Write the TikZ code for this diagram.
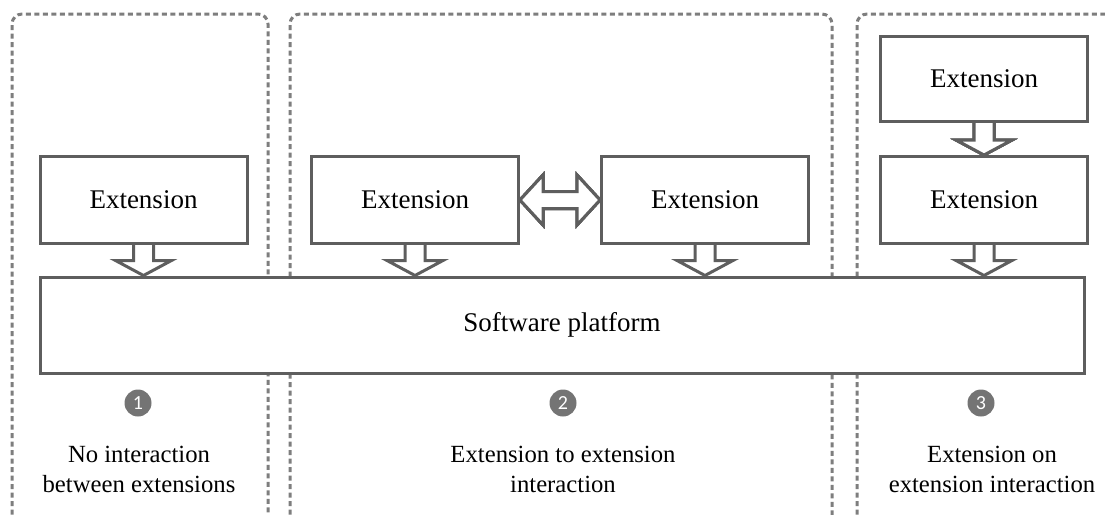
\documentclass[tikz,border=0pt]{standalone}
\usepackage{fontspec}
\setmainfont{Liberation Serif}
\newfontfamily\numfont{Carlito}
\usetikzlibrary{calc,positioning,backgrounds}
\definecolor{boxgray}{HTML}{5E5E5E}
\definecolor{framegray}{HTML}{7E7E7E}
\definecolor{dotgray}{HTML}{747474}
\tikzset{
	extbox/.style={draw=boxgray, line width=3pt, fill=white, minimum width=207pt, minimum height=87pt, inner sep=0pt, font=\fontsize{27}{30}\selectfont},
	blockarrow/.style={draw=boxgray, line width=3pt, fill=white},
	groupframe/.style={draw=framegray, line width=3pt, dash pattern=on 5pt off 3.5pt, rounded corners=10pt},
	numdot/.style={circle, fill=dotgray, text=white, minimum size=27pt, inner sep=0pt, font=\numfont\fontsize{20}{20}\selectfont},
	notelabel/.style={align=center, anchor=base, font=\fontsize{24.7}{30}\selectfont}
}
\newcommand\downblock[2]{%
	\draw[blockarrow] ($(#1.south)+(-10,0)$) -- ($(#1.south |- #2.north)+(-10,-15)$) -- ++(-18,0)
	-- (#1.south |- #2.north) -- ++(28,-15) -- ++(-18,0) -- ($(#1.south)+(10,0)$);}
\begin{document}
\begin{tikzpicture}[x=1pt,y=-1pt]
		\useasboundingbox (0,0) rectangle (1105,514);
		\begin{scope}
			\clip (0,0) rectangle (1105,514);
			\foreach \l/\r in {12/268,290/832,857/1130}
			\draw[groupframe] (\l,540) -- (\l,14) -- (\r,14) -- (\r,540);
		\end{scope}
		\node[extbox, minimum width=1044pt, minimum height=96pt] (platform) at (562,325) {Software platform};
		\node[extbox] (ext1) at (143.5,200) {Extension};
		\node[extbox] (ext2) at (415,200) {Extension};
		\node[extbox] (ext3) [right=80pt of ext2] {Extension};
		\node[extbox] (ext5) at (984,200) {Extension};
		\node[extbox, minimum height=85pt] (ext4) [above=32pt of ext5] {Extension};
		\begin{scope}[on background layer]
			\foreach \e in {ext1,ext2,ext3,ext5}
			\downblock{\e}{platform}
			\downblock{ext4}{ext5}
			\draw[blockarrow] (ext2.east) -- ++(23,-25) -- ++(0,16.5) -- ($(ext3.west)+(-23,-8.5)$) -- ++(0,-16.5)
			-- (ext3.west) -- ++(-23,25) -- ++(0,-16.5) -- ($(ext2.east)+(23,8.5)$) -- ++(0,16.5) -- cycle;
		\end{scope}
		\node[numdot] (num1) at (138,403) {1};
		\node[numdot] (num2) at (563,403) {2};
		\node[numdot] (num3) at (981,403) {3};
		\node[notelabel] (note1) at (139,492) {No interaction\\between extensions};
		\node[notelabel] (note2) at (563,492) {Extension to extension\\interaction};
		\node[notelabel] (note3) at (992,492) {Extension on\\extension interaction};
\end{tikzpicture}
\end{document}
